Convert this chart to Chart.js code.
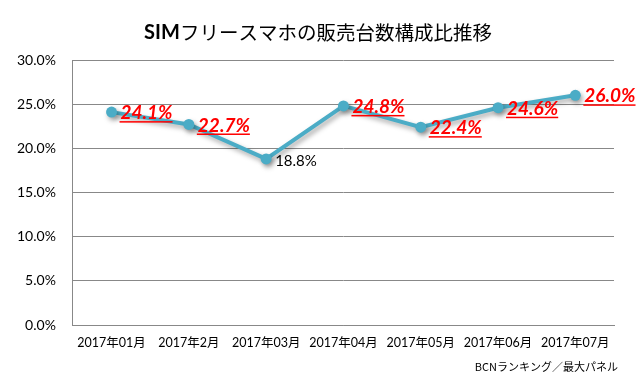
<!DOCTYPE html>
<html>
<head>
<meta charset="utf-8">
<script src="https://cdn.jsdelivr.net/npm/chart.js@4.4.1/dist/chart.umd.min.js"></script>
<style>
  body { margin: 0; background: #fff; }
  #wrap { width: 643px; height: 391px; }
</style>
</head>
<body>
<div id="wrap"><canvas id="shareChart"></canvas></div>
<script>
const months = ['2017年01月', '2017年2月', '2017年03月', '2017年04月', '2017年05月', '2017年06月', '2017年07月'];
const shares = [0.241, 0.227, 0.188, 0.248, 0.224, 0.246, 0.260];
// which points get the big red label
const highlight = [true, true, false, true, true, true, true];
const titleBold = 'SIM';
const titleRest = 'フリースマホの販売台数構成比推移';
const sourceNote = 'BCNランキング／最大パネル';

const fontLat = 'Lato, "Noto Sans CJK JP", sans-serif';
const fontJp = '"Noto Sans CJK JP", sans-serif';

const pct = v => (v * 100).toFixed(1) + '%';

// title + footer text
const textPlugin = {
    id: 'texts',
    afterDraw(chart) {
        const c = chart.ctx;
        c.save();
        c.fillStyle = '#000';
        c.textBaseline = 'middle';
        c.font = 'bold 20px ' + fontLat;
        const w1 = c.measureText(titleBold).width;
        c.font = '19.5px ' + fontJp;
        const w2 = c.measureText(titleRest).width;
        const x0 = 318 - (w1 + w2) / 2;
        c.textAlign = 'left';
        c.font = 'bold 20px ' + fontLat;
        c.fillText(titleBold, x0, 33);
        c.font = '19.5px ' + fontJp;
        c.fillText(titleRest, x0 + w1, 33);

        c.font = '11px ' + fontJp;
        c.textAlign = 'right';
        c.fillText(sourceNote, 618, 367);
        c.restore();
    }
};

// point value labels
const labelPlugin = {
    id: 'valueLabels',
    afterDatasetsDraw(chart) {
        const c = chart.ctx;
        const meta = chart.getDatasetMeta(0);
        c.save();
        c.textBaseline = 'middle';
        c.textAlign = 'left';
        meta.data.forEach((pt, i) => {
            const txt = pct(shares[i]);
            const x = pt.x + 9;
            const y = pt.y + 1;
            if (highlight[i]) {
                c.font = 'italic bold 19px ' + fontLat;
                c.fillStyle = '#ff0000';
                c.fillText(txt, x, y);
                const w = c.measureText(txt).width;
                c.fillRect(x - 1, y + 8, w + 1, 1.5);
            } else {
                c.font = '15px ' + fontLat;
                c.fillStyle = '#000';
                c.fillText(txt, x, y + 1);
            }
        });
        c.restore();
    }
};

// soft shadow under the line like the original
const shadowPlugin = {
    id: 'lineShadow',
    beforeDatasetDraw(chart) {
        const c = chart.ctx;
        c.save();
        c.shadowColor = 'rgba(0,0,0,0.35)';
        c.shadowBlur = 5;
        c.shadowOffsetX = 2;
        c.shadowOffsetY = 3;
    },
    afterDatasetDraw(chart) {
        chart.ctx.restore();
    }
};

const ctx = document.getElementById('shareChart').getContext('2d');
const shareChart = new Chart(ctx, {
    type: 'line',
    data: {
        labels: months,
        datasets: [{
            data: shares,
            borderColor: '#4bacc6',
            backgroundColor: '#4bacc6',
            borderWidth: 4,
            pointRadius: 5.5,
            pointBorderWidth: 0,
            tension: 0
        }]
    },
    options: {
        responsive: true,
        maintainAspectRatio: false,
        animation: false,
        layout: { padding: { top: 60, right: 29, bottom: 39, left: 0 } },
        plugins: {
            legend: { display: false },
            tooltip: { enabled: false }
        },
        scales: {
            x: {
                offset: true,
                grid: { display: false },
                border: { color: '#888', width: 1 },
                ticks: { color: '#000', font: { family: fontLat, size: 12.5 }, maxRotation: 0, padding: 2 }
            },
            y: {
                min: 0,
                max: 0.3,
                ticks: {
                    stepSize: 0.05,
                    color: '#000',
                    padding: 17,
                    font: { family: fontLat, size: 14 },
                    callback: v => pct(v)
                },
                grid: { color: '#888', drawTicks: false },
                border: { color: '#888', width: 1 }
            }
        }
    },
    plugins: [shadowPlugin, labelPlugin, textPlugin]
});
</script>
</body>
</html>
